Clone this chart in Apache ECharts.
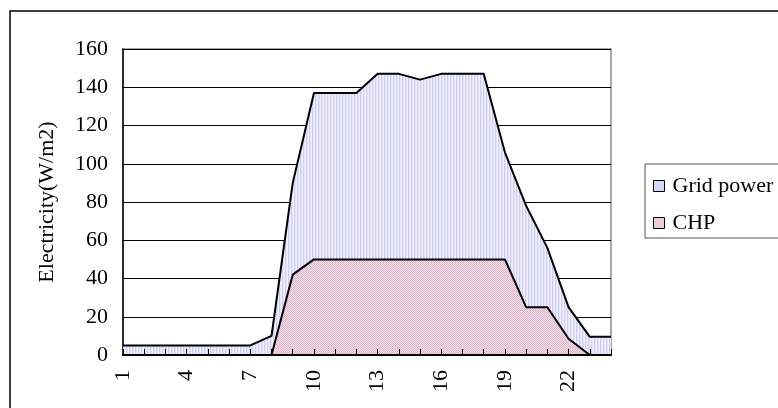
<!DOCTYPE html>
<html>
<head>
<meta charset="utf-8">
<script src="https://cdn.jsdelivr.net/npm/echarts@6/dist/echarts.min.js"></script>
<style>
  html, body { margin: 0; padding: 0; background: #fff; }
  #chart { width: 778px; height: 408px; }
</style>
</head>
<body>
<div id="chart"></div>
<script>
// Hours of the day
const hours = ['1','2','3','4','5','6','7','8','9','10','11','12','13','14','15','16','17','18','19','20','21','22','23','24'];
// Electricity drawn from the grid (W/m2)
const gridPower = [5, 5, 5, 5, 5, 5, 5, 10, 90, 137, 137, 137, 147, 147, 144, 147, 147, 147, 106, 78, 56, 25, 9.5, 9.5];
// Electricity from the CHP unit (W/m2)
const chp = [0, 0, 0, 0, 0, 0, 0, 0, 42, 50, 50, 50, 50, 50, 50, 50, 50, 50, 50, 25, 25, 8.5, 0, 0];
const yTicks = { min: 0, max: 160, step: 20 };

const FONT = '"Liberation Serif", "Times New Roman", serif';
const FONT_SIZE = 22;

// Small repeating fill textures for the two areas
function makePattern(w, h, painter) {
  const c = document.createElement('canvas');
  c.width = w; c.height = h;
  painter(c.getContext('2d'));
  return { image: c, repeat: 'repeat' };
}
const gridFill = makePattern(3, 1, ctx => {
  ctx.fillStyle = '#cdcdf6'; ctx.fillRect(0, 0, 1, 1);
  ctx.fillStyle = '#e3e3fc'; ctx.fillRect(1, 0, 1, 1);
  ctx.fillStyle = '#f1f1ff'; ctx.fillRect(2, 0, 1, 1);
});
const chpFill = makePattern(2, 2, ctx => {
  ctx.fillStyle = '#f3dde8'; ctx.fillRect(0, 0, 2, 2);
  ctx.fillStyle = '#dfb7cb'; ctx.fillRect(0, 0, 1, 1); ctx.fillRect(1, 1, 1, 1);
});

const chart = echarts.init(document.getElementById('chart'), null, { renderer: 'canvas' });
chart.setOption({
  animation: false,
  backgroundColor: '#fff',
  textStyle: { fontFamily: FONT, color: '#000' },
  grid: {
    left: 123, top: 49, width: 488, height: 306,
    show: true, borderColor: '#8a8a8a', borderWidth: 1.5, backgroundColor: 'transparent'
  },
  legend: {
    orient: 'vertical',
    left: 648, top: 170,
    itemWidth: 11, itemHeight: 11, itemGap: 15,
    icon: 'rect',
    textStyle: { fontFamily: FONT, fontSize: FONT_SIZE, color: '#000', padding: [0, 0, 0, 3] },
    data: [
      { name: 'Grid power', itemStyle: { color: '#d6d6fb', borderColor: '#000', borderWidth: 1 } },
      { name: 'CHP', itemStyle: { color: '#ebcad9', borderColor: '#000', borderWidth: 1 } }
    ]
  },
  graphic: [
    // outer chart frame
    { type: 'rect', shape: { x: 10, y: 11, width: 800, height: 420 },
      style: { fill: 'none', stroke: '#000', lineWidth: 1.5 }, z: 100, silent: true },
    // legend frame
    { type: 'rect', shape: { x: 645, y: 164, width: 140, height: 74 },
      style: { fill: 'none', stroke: '#555', lineWidth: 1 }, z: 100, silent: true }
  ],
  xAxis: {
    type: 'category',
    data: hours,
    boundaryGap: false,
    z: 5,
    axisLine: { lineStyle: { color: '#000', width: 2 } },
    axisTick: { show: true, inside: true, length: 6, interval: 0, lineStyle: { color: '#000', width: 1 } },
    axisLabel: { interval: 2, rotate: 90, margin: 15, fontFamily: FONT, fontSize: FONT_SIZE, color: '#000' },
    splitLine: { show: false }
  },
  yAxis: {
    type: 'value',
    min: yTicks.min, max: yTicks.max, interval: yTicks.step,
    name: 'Electricity(W/m2)',
    nameLocation: 'middle',
    nameGap: 65,
    nameTextStyle: { fontFamily: FONT, fontSize: FONT_SIZE, color: '#000' },
    axisLine: { show: true, lineStyle: { color: '#000', width: 1.5 } },
    axisTick: { show: false },
    axisLabel: { margin: 15, fontFamily: FONT, fontSize: FONT_SIZE, color: '#000' },
    splitLine: { show: true, lineStyle: { color: '#000', width: 1 } }
  },
  series: [
    {
      name: 'Grid power', type: 'line', data: gridPower,
      symbol: 'none', z: 2,
      lineStyle: { color: '#000', width: 2 },
      itemStyle: { color: '#d6d6fb' },
      areaStyle: { color: gridFill, opacity: 1 }
    },
    {
      name: 'CHP', type: 'line', data: chp,
      symbol: 'none', z: 3,
      lineStyle: { color: '#000', width: 2 },
      itemStyle: { color: '#ebcad9' },
      areaStyle: { color: chpFill, opacity: 1 }
    }
  ]
});
</script>
</body>
</html>
